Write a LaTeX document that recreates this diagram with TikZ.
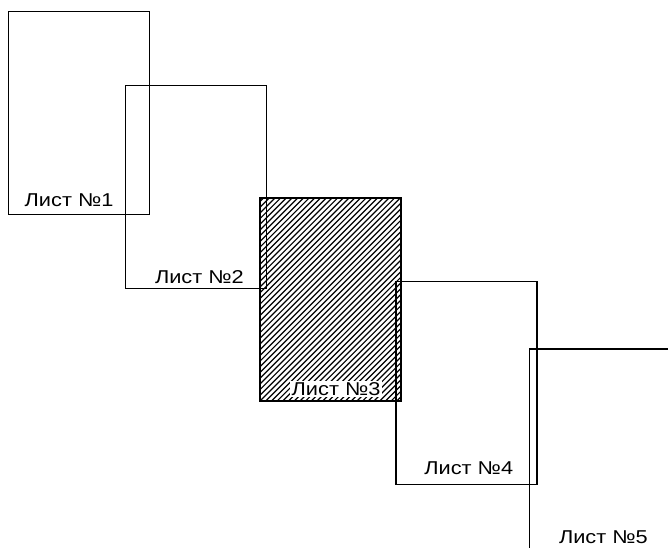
\documentclass[tikz,border=0pt]{standalone}
\usepackage{fontspec}
\setmainfont{Liberation Sans}
\newfontfamily\sheetfont[FakeStretch=1.17]{Liberation Sans}
\begin{document}
\begin{tikzpicture}[x=1pt,y=-1pt,
  sheet/.style={draw,line width=1.2pt,inner sep=0pt,outer sep=0pt,
    minimum width=141pt,minimum height=203pt},
  hatchline/.style={line width=1.2pt},
  sheetlabel/.style={font=\sheetfont\fontsize{18.6}{20}\selectfont,inner sep=1.5pt,anchor=base west}]
\useasboundingbox (0,0) rectangle (668,547);
% hatched sheet first, outlines on top
\node[sheet,draw=none] (s3) at (330.5,299.5) {};
\begin{scope}
\clip (s3.south west) rectangle (s3.north east);
\foreach \k in {-40,...,28}
  \draw[hatchline] ([xshift=\k*5.7pt]s3.south west) -- ++(215,-215);
\end{scope}
\node[sheet] (s1) at (78.7,112.9) {};
\node[sheet] (s2) at (195.7,187) {};
\node[sheet] at (s3) {};
\node[sheet] (s4) at (466.4,382.8) {};
\node[sheet] (s5) at (599.8,450.5) {};
% labels
\node[sheetlabel] (l1) at (23,206.7) {Лист №1};
\node[sheetlabel] (l2) at (153.3,283.5) {Лист №2};
\node[sheetlabel,fill=white] (l3) at (290,395) {Лист №3};
\node[sheetlabel] (l4) at (422.7,474) {Лист №4};
\node[sheetlabel] (l5) at (557.3,543.3) {Лист №5};
\end{tikzpicture}
\end{document}
